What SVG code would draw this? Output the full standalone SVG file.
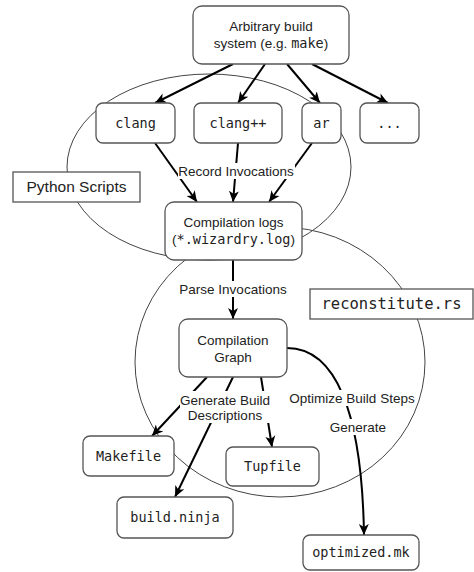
<svg xmlns="http://www.w3.org/2000/svg" width="474" height="572" viewBox="0 0 474 572">
<style>
.box{fill:#fff;stroke:#555;stroke-width:1.3}
.region{fill:none;stroke:#444;stroke-width:1}
.edge{fill:none;stroke:#000;stroke-width:2}
.t{font-family:"Liberation Sans",Arial,sans-serif;font-size:13.5px;fill:#222;text-anchor:middle}
.m{font-family:"DejaVu Sans Mono","Liberation Mono",monospace;font-size:13.5px;fill:#222;text-anchor:middle}
.big{font-size:15.5px}
.bg{fill:#fff}
</style>
<defs>
<marker id="arr" markerUnits="userSpaceOnUse" markerWidth="12" markerHeight="12" viewBox="0 0 12 12" refX="11" refY="6" orient="auto">
<path d="M0,1 L11,6 L0,11 L3,6 z" fill="#000"/>
</marker>
</defs>
<g id="regions">
<ellipse class="region" cx="209" cy="167" rx="142" ry="93"/>
<ellipse class="region" cx="280" cy="362" rx="145" ry="135"/>
</g>
<g id="connectors">
<path class="edge" d="M233,64 L155,103" marker-end="url(#arr)"/>
<path class="edge" d="M265,64 L238,103" marker-end="url(#arr)"/>
<path class="edge" d="M287,64 L320,103" marker-end="url(#arr)"/>
<path class="edge" d="M312,64 L388,103" marker-end="url(#arr)"/>
<path class="edge" d="M155,143 L197,202" marker-end="url(#arr)"/>
<path class="edge" d="M238,143 L233,202" marker-end="url(#arr)"/>
<path class="edge" d="M312,143 L269,202" marker-end="url(#arr)"/>
<path class="edge" d="M233,260 L233,319" marker-end="url(#arr)"/>
<path class="edge" d="M207,377 L152,436" marker-end="url(#arr)"/>
<path class="edge" d="M233,377 L175,497" marker-end="url(#arr)"/>
<path class="edge" d="M261,377 L272,447" marker-end="url(#arr)"/>
<path class="edge" d="M287,348 C335,348 362,410 364,535" marker-end="url(#arr)"/>
<rect class="bg" x="178" y="163" width="117" height="16"/>
<text class="t" x="236" y="176">Record Invocations</text>
<rect class="bg" x="179" y="281" width="109" height="16"/>
<text class="t" x="233" y="294">Parse Invocations</text>
<rect class="bg" x="180" y="391" width="91" height="32"/>
<text class="t" x="225" y="405">Generate Build</text>
<text class="t" x="225" y="420">Descriptions</text>
<rect class="bg" x="289" y="390" width="127" height="16"/>
<text class="t" x="352" y="403">Optimize Build Steps</text>
<rect class="bg" x="330" y="419" width="56" height="16"/>
<text class="t" x="358" y="432">Generate</text>
</g>
<g id="build-system">
<rect class="box" x="193" y="6" width="156" height="58" rx="9"/>
<text class="t" x="271" y="31">Arbitrary build</text>
<text class="t" x="271" y="48">system (e.g. <tspan class="m" style="text-anchor:start">make</tspan>)</text>
</g>
<g id="clang">
<rect class="box" x="96" y="103" width="79" height="40" rx="7"/>
<text class="m" x="135.5" y="128">clang</text>
</g>
<g id="clangpp">
<rect class="box" x="194" y="103" width="88" height="40" rx="7"/>
<text class="m" x="238" y="128">clang++</text>
</g>
<g id="ar">
<rect class="box" x="302" y="103" width="39" height="40" rx="7"/>
<text class="m" x="321.5" y="128">ar</text>
</g>
<g id="more">
<rect class="box" x="360" y="103" width="59" height="40" rx="7"/>
<text class="m" x="389.5" y="128">...</text>
</g>
<g id="python-scripts">
<rect class="box" x="13" y="172" width="127" height="30"/>
<text class="t big" x="76.5" y="192">Python Scripts</text>
</g>
<g id="compilation-logs">
<rect class="box" x="165" y="202" width="137" height="58" rx="9"/>
<text class="t" x="233.5" y="227">Compilation logs</text>
<text class="t" x="233.5" y="244">(<tspan class="m" style="text-anchor:start">*.wizardry.log</tspan>)</text>
</g>
<g id="reconstitute">
<rect class="box" x="310" y="289" width="163" height="30"/>
<text class="m big" x="391.5" y="309">reconstitute.rs</text>
</g>
<g id="compilation-graph">
<rect class="box" x="179" y="319" width="108" height="58" rx="9"/>
<text class="t" x="233" y="345">Compilation</text>
<text class="t" x="233" y="362">Graph</text>
</g>
<g id="makefile">
<rect class="box" x="83" y="436" width="91" height="40" rx="7"/>
<text class="m" x="128.5" y="461">Makefile</text>
</g>
<g id="tupfile">
<rect class="box" x="226" y="447" width="93" height="39" rx="7"/>
<text class="m" x="272.5" y="471">Tupfile</text>
</g>
<g id="build-ninja">
<rect class="box" x="117" y="497" width="116" height="41" rx="7"/>
<text class="m" x="175" y="522">build.ninja</text>
</g>
<g id="optimized-mk">
<rect class="box" x="303" y="535" width="116" height="35" rx="7"/>
<text class="m" x="361" y="557">optimized.mk</text>
</g>
</svg>
